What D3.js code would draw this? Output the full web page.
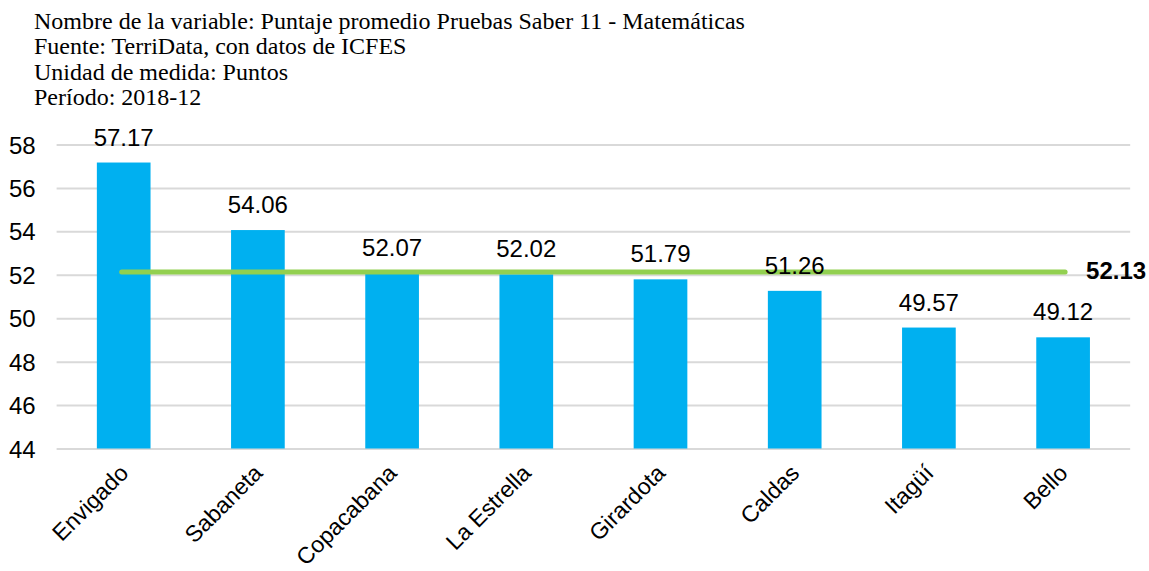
<!DOCTYPE html>
<html>
<head>
<meta charset="utf-8">
<script src="https://cdn.jsdelivr.net/npm/d3@7"></script>
<style>
  body { margin: 0; background: #fff; }
  .head { font-family: "Liberation Serif", "Times New Roman", serif; font-size: 24px; fill: #000; }
  .tick text { font-family: "Liberation Sans", Arial, sans-serif; font-size: 24px; fill: #000; }
  .val { font-family: "Liberation Sans", Arial, sans-serif; font-size: 24px; fill: #000; }
</style>
</head>
<body>
<div id="chart"></div>
<script>
// chart data
var headerLines = [
  "Nombre de la variable: Puntaje promedio Pruebas Saber 11 - Matemáticas",
  "Fuente: TerriData, con datos de ICFES",
  "Unidad de medida: Puntos",
  "Período: 2018-12"
];
var municipios = ["Envigado", "Sabaneta", "Copacabana", "La Estrella", "Girardota", "Caldas", "Itagüí", "Bello"];
var puntajes = [57.17, 54.06, 52.07, 52.02, 51.79, 51.26, 49.57, 49.12];
var promedio = 52.13;
var yTicks = [44, 46, 48, 50, 52, 54, 56, 58];

var svgWidth = 1149, svgHeight = 571;
var margin = { top: 144.5, left: 56.6, right: 18.8, bottom: 122.5 };
var chartWidth = svgWidth - margin.left - margin.right;
var chartHeight = svgHeight - margin.top - margin.bottom;

var svg = d3.select("#chart").append("svg")
  .attr("width", svgWidth)
  .attr("height", svgHeight);

// header text
svg.selectAll("text.head")
  .data(headerLines)
  .enter().append("text")
  .attr("class", "head")
  .attr("x", 34)
  .attr("y", (d, i) => 29 + i * 25.4)
  .text(d => d);

var g = svg.append("g")
  .attr("transform", `translate(${margin.left},${margin.top})`);

var x = d3.scaleBand()
  .domain(municipios)
  .range([0, chartWidth])
  .paddingInner(0.6)
  .paddingOuter(0.3);

var y = d3.scaleLinear()
  .domain([44, 58])
  .range([chartHeight, 0]);

// gridlines + y labels
var yAxis = g.append("g")
  .call(d3.axisLeft(y).tickValues(yTicks).tickSize(-chartWidth).tickPadding(21));
yAxis.select(".domain").remove();
yAxis.selectAll(".tick line").attr("stroke", "#d9d9d9").attr("stroke-width", 2);
yAxis.selectAll(".tick text").attr("dy", "0.36em");

// bars
g.selectAll("rect.bar")
  .data(puntajes)
  .enter().append("rect")
  .attr("class", "bar")
  .attr("x", (d, i) => x(municipios[i]))
  .attr("y", d => y(d))
  .attr("width", x.bandwidth())
  .attr("height", d => chartHeight - y(d))
  .attr("fill", "#00b0f0");

// average line
var first = municipios[0], last = municipios[municipios.length - 1];
g.append("line")
  .attr("x1", x(first) + x.bandwidth() / 2 - 2)
  .attr("x2", x(last) + x.bandwidth() / 2 + 2)
  .attr("y1", y(promedio))
  .attr("y2", y(promedio))
  .attr("stroke", "#92d050")
  .attr("stroke-width", 5)
  .attr("stroke-linecap", "round");

g.append("text")
  .attr("class", "val")
  .attr("x", x(last) + x.bandwidth() / 2 + 23)
  .attr("y", y(promedio) + 7)
  .attr("font-weight", "bold")
  .attr("font-size", "22px")
  .text(promedio.toFixed(2));

// value labels
g.selectAll("text.lbl")
  .data(puntajes)
  .enter().append("text")
  .attr("class", "val lbl")
  .attr("text-anchor", "middle")
  .attr("x", (d, i) => x(municipios[i]) + x.bandwidth() / 2)
  .attr("y", d => y(d) - 17)
  .text(d => d.toFixed(2));

// x axis labels
var xAxis = g.append("g")
  .attr("transform", `translate(0,${chartHeight})`)
  .call(d3.axisBottom(x).tickSize(0).tickPadding(0));
xAxis.select(".domain").remove();
xAxis.selectAll(".tick text")
  .attr("text-anchor", "end")
  .attr("dy", 0)
  .attr("transform", "translate(6,26) rotate(-45)")
  .style("font-size", "23px");
</script>
</body>
</html>
